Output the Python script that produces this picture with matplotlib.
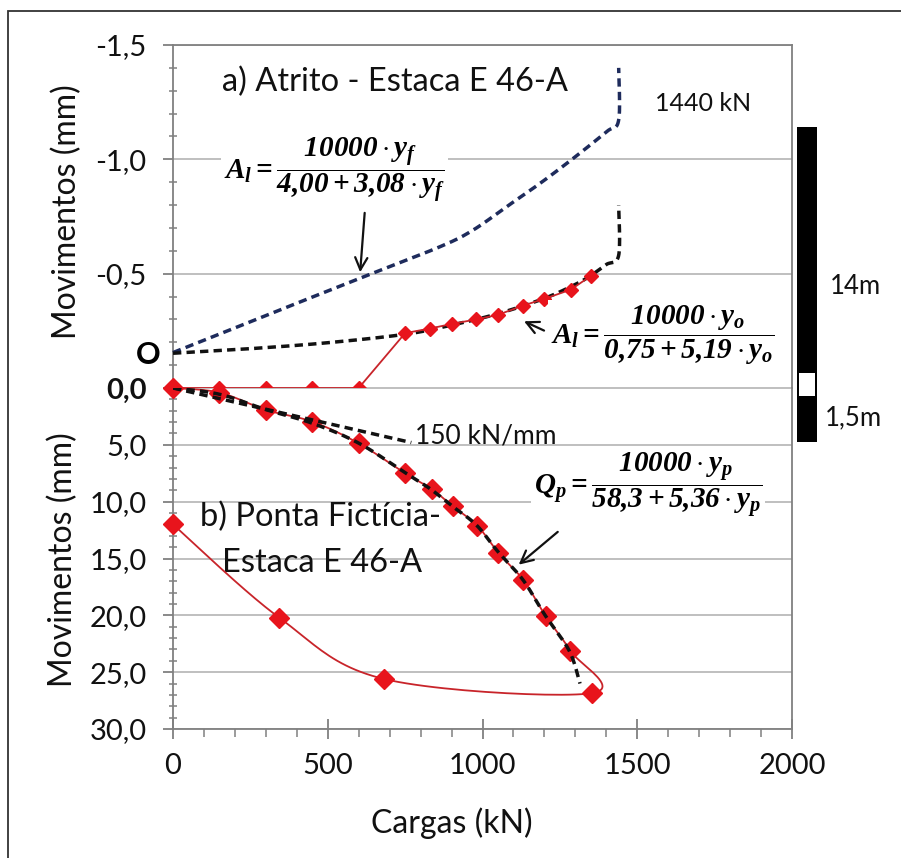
import numpy as np
import matplotlib
matplotlib.use('Agg')
import matplotlib.pyplot as plt
from matplotlib.patches import Rectangle
from matplotlib.ticker import MultipleLocator

plt.rcParams['font.family'] = ['Lato', 'DejaVu Sans']
plt.rcParams['mathtext.fontset'] = 'custom'
plt.rcParams['mathtext.rm'] = 'Liberation Serif:bold:italic'
plt.rcParams['mathtext.it'] = 'Liberation Serif:bold:italic'
plt.rcParams['mathtext.bf'] = 'Liberation Serif:bold:italic'

# ---------------- data ----------------
# a) Atrito (friction) - measured
atrito_load = [0, 150, 300, 450, 600, 750, 830, 900, 980, 1050, 1130, 1200, 1285, 1350]
atrito_mov = [0, 0, 0, 0, 0, -0.24, -0.26, -0.28, -0.30, -0.32, -0.36, -0.39, -0.43, -0.49]
# fitted hyperbola y_o (black dashed)
fit_o_load = [0, 250, 500, 750, 900, 1050, 1200, 1300, 1350, 1400, 1440, 1440]
fit_o_mov = [-0.152, -0.172, -0.198, -0.235, -0.275, -0.325, -0.392, -0.453, -0.492, -0.54, -0.58, -0.80]
# fitted hyperbola y_f (blue dashed)
fit_f_load = [0, 300, 604, 863, 970, 1078, 1186, 1293, 1401, 1440, 1440]
fit_f_mov = [-0.155, -0.317, -0.48, -0.618, -0.691, -0.793, -0.895, -1.004, -1.121, -1.172, -1.40]
# b) Ponta fictícia - measured (loading + unloading)
ponta_load = [0, 150, 300, 450, 600, 750, 836, 904, 983, 1051, 1132, 1205, 1283, 1353, 682, 343, 0]
ponta_mov = [0, 0.4, 1.93, 2.96, 4.87, 7.5, 8.9, 10.4, 12.1, 14.5, 16.9, 20.1, 23.1, 26.85, 25.6, 20.2, 12.0]
# fitted hyperbola y_p (black dashed)
fit_p_load = [0, 150, 300, 450, 600, 750, 830, 900, 980, 1050, 1130, 1200, 1280, 1315]
fit_p_mov = [0, 0.55, 1.9, 3.1, 4.85, 7.45, 8.85, 10.35, 12.05, 14.4, 16.85, 19.9, 23.1, 26.0]
# initial stiffness 150 kN/mm
tang_load = [0, 770]
tang_mov = [0, 4.8]

top_ticks = [-1.5, -1.0, -0.5, 0.0]
top_labels = ['-1,5', '-1,0', '-0,5', '']
bot_ticks = [0, 5, 10, 15, 20, 25, 30]
bot_labels = ['0,0', '5,0', '10,0', '15,0', '20,0', '25,0', '30,0']
x_ticks = [0, 500, 1000, 1500, 2000]
x_labels = ['0', '500', '1000', '1500', '2000']

# ---------------- helpers ----------------
W_PX, H_PX = 901, 858


def smooth(xs, ys, sx, sy, n=24):
    P = np.column_stack([np.asarray(xs, float) * sx, np.asarray(ys, float) * sy])
    P = np.vstack([P[0], P, P[-1]])
    out = []
    t = np.linspace(0, 1, n, endpoint=False)[:, None]
    for i in range(1, len(P) - 2):
        p0, p1, p2, p3 = P[i - 1], P[i], P[i + 1], P[i + 2]
        c1 = p1 + (p2 - p0) / 6
        c2 = p2 - (p3 - p1) / 6
        seg = (1 - t) ** 3 * p1 + 3 * (1 - t) ** 2 * t * c1 + 3 * (1 - t) * t ** 2 * c2 + t ** 3 * p2
        out.append(seg)
    out.append(P[-2][None, :])
    out = np.vstack(out)
    return out[:, 0] / sx, out[:, 1] / sy


fig = plt.figure(figsize=(W_PX / 100, H_PX / 100), dpi=100)
L = 173 / W_PX
Wd = (792 - 173) / W_PX
ax1 = fig.add_axes([L, 1 - 388 / H_PX, Wd, 343 / H_PX])
ax2 = fig.add_axes([L, 1 - 729 / H_PX, Wd, 341 / H_PX], sharex=ax1)

sx = 619 / 2000
sy1 = 343 / 1.5
sy2 = 341 / 30

spine_c = '#808080'
grid_c = '#b4b4b4'
red_m = '#e8141c'
red_l = '#c8242a'
blue = '#1e2b5c'
txt_c = '#111111'

for ax in (ax1, ax2):
    ax.set_xlim(0, 2000)
    ax.set_axisbelow(True)
    ax.grid(axis='y', color=grid_c, lw=1.2)
    for s in ax.spines.values():
        s.set_color(spine_c)
        s.set_linewidth(1.3)
    ax.tick_params(axis='y', which='major', direction='out', length=7, width=1.3,
                   color=spine_c, labelsize=21, pad=12, labelcolor=txt_c)
    ax.tick_params(axis='y', which='minor', direction='inout', length=6, width=1.1, color=spine_c)

ax1.spines['bottom'].set_visible(False)
ax2.spines['top'].set_visible(False)
ax1.tick_params(axis='x', which='both', bottom=False, labelbottom=False)

ax1.set_ylim(0, -1.5)
ax1.set_yticks(top_ticks, top_labels)
ax1.yaxis.set_minor_locator(MultipleLocator(0.1))

ax2.set_ylim(30, 0)
ax2.set_yticks(bot_ticks, bot_labels)
ax2.yaxis.set_minor_locator(MultipleLocator(1))
ax2.get_yticklabels()[0].set_fontweight('bold')

ax2.set_xticks(x_ticks, x_labels)
ax2.xaxis.set_minor_locator(MultipleLocator(100))
ax2.tick_params(axis='x', which='major', direction='inout', length=14, width=1.3,
                color=spine_c, labelsize=21, pad=10, labelcolor=txt_c)
ax2.tick_params(axis='x', which='minor', direction='out', length=6, width=1.1, color=spine_c)

dash = (0, (2.4, 1.5))

# ---- top panel ----
bx, by = smooth(fit_f_load, fit_f_mov, sx, sy1)
ax1.plot(bx, by, color=blue, lw=2.5, ls=dash, zorder=3, clip_on=False)
ox, oy = smooth(fit_o_load, fit_o_mov, sx, sy1)
ax1.plot(ox, oy, color='#111111', lw=2.5, ls=dash, zorder=4, clip_on=False)
ax1.plot(atrito_load, atrito_mov, color=red_l, lw=1.3, marker='D', ms=7,
         mfc=red_m, mec=red_m, zorder=5, clip_on=False)

# ---- bottom panel ----
tx, ty = smooth(ponta_load, ponta_mov, sx, sy2)
ax2.plot(tx, ty, color=red_l, lw=1.3, zorder=4, clip_on=False)
ax2.plot(ponta_load, ponta_mov, ls='none', marker='D', ms=10, mfc=red_m, mec=red_m,
         zorder=5, clip_on=False)
px_, py_ = smooth(fit_p_load, fit_p_mov, sx, sy2)
ax2.plot(px_, py_, color='#111111', lw=2.5, ls=dash, zorder=6)
ax2.plot(tang_load, tang_mov, color='#111111', lw=2.5, ls=dash, zorder=6)

# ---- texts ----
ax1.text(158, -1.338, 'a) Atrito - Estaca E 46-A', fontsize=23.5, ha='left', va='center', color=txt_c)
ax1.text(1557, -1.246, '1440 kN', fontsize=18, ha='left', va='center', color=txt_c)
ax1.text(-81, -0.144, 'O', fontsize=22, fontweight='bold', ha='center', va='center', clip_on=False)

bb = dict(facecolor='white', edgecolor='none', pad=2)
ax1.text(523, -0.953, r'$A_l = \dfrac{10000\cdot y_f}{4{,}00 + 3{,}08\cdot y_f}$',
         fontsize=21, ha='center', va='center', bbox=bb, zorder=7)
ax1.text(1583, -0.232, r'$A_l = \dfrac{10000\cdot y_o}{0{,}75 + 5{,}19\cdot y_o}$',
         fontsize=21, ha='center', va='center', bbox=bb, zorder=7)
ax2.text(1535, 8.53, r'$Q_p = \dfrac{10000\cdot y_p}{58{,}3 + 5{,}36\cdot y_p}$',
         fontsize=21, ha='center', va='center', bbox=bb, zorder=7)

ap = dict(arrowstyle='->', lw=1.6, color='#111111', mutation_scale=22)
ax1.annotate('', xy=(604, -0.494), xytext=(620, -0.778), arrowprops=ap, zorder=8)
ax1.annotate('', xy=(1126, -0.297), xytext=(1207, -0.246), arrowprops=ap, zorder=8)
ax2.annotate('', xy=(1110, 15.7), xytext=(1250, 12.5), arrowprops=ap, zorder=8)

ax2.text(782, 4.2, '150 kN/mm', fontsize=19, ha='left', va='center', color=txt_c)
ax2.text(87, 11.35, 'b) Ponta Fictícia-', fontsize=23.5, ha='left', va='center', color=txt_c)
ax2.text(158, 15.4, 'Estaca E 46-A', fontsize=23.5, ha='left', va='center', color=txt_c)

# axis labels
fig.text(67 / W_PX, 1 - 212 / H_PX, 'Movimentos (mm)', rotation=90, fontsize=23,
         ha='center', va='center', color=txt_c)
fig.text(63 / W_PX, 1 - 560 / H_PX, 'Movimentos (mm)', rotation=90, fontsize=23,
         ha='center', va='center', color=txt_c)
fig.text(452 / W_PX, 1 - 823 / H_PX, 'Cargas (kN)', fontsize=23, ha='center', va='center',
         color=txt_c)

# pile sketch on the right
fig.add_artist(Rectangle((797 / W_PX, 1 - 442 / H_PX), 20 / W_PX, 315 / H_PX,
                         transform=fig.transFigure, facecolor='black', edgecolor='none'))
fig.add_artist(Rectangle((799 / W_PX, 1 - 396 / H_PX), 16 / W_PX, 23 / H_PX,
                         transform=fig.transFigure, facecolor='white', edgecolor='none'))
fig.text(830 / W_PX, 1 - 287 / H_PX, '14m', fontsize=18.5, ha='left', va='center', color=txt_c)
fig.text(825 / W_PX, 1 - 418 / H_PX, '1,5m', fontsize=18.5, ha='left', va='center', color=txt_c)

# outer frame
fig.add_artist(Rectangle((8 / W_PX, -0.05), 1.2, 1.05 - 11 / H_PX, transform=fig.transFigure,
                         fill=False, edgecolor='#333333', lw=1.3))

fig.savefig('out.png', dpi=100)
